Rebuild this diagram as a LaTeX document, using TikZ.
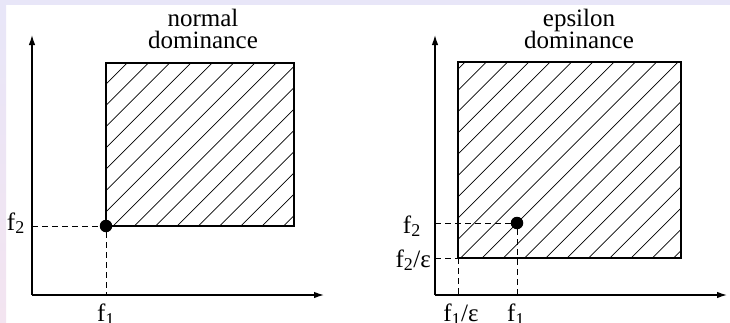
\documentclass[tikz,border=0pt]{standalone}
\usepackage{fontspec}
\setmainfont{Liberation Serif}
\usetikzlibrary{arrows.meta}
\definecolor{lav}{HTML}{E8E6F8}
\definecolor{pnk}{HTML}{F3E4F0}
\tikzset{
  axis/.style={line width=1.3pt,-{Latex[length=10pt,width=6.5pt]}},
  region/.style={line width=1.4pt},
  hatch/.style={line width=0.7pt},
  guide/.style={line width=1pt,dash pattern=on 6pt off 4pt},
  pt/.style={circle,fill=black,inner sep=0pt,minimum size=12.5pt},
  lbl/.style={inner sep=0pt,font=\fontsize{25}{25}\selectfont},
  ttl/.style={inner sep=0pt,font=\fontsize{25}{20}\selectfont}
}
\newcommand{\sbs}[1]{\textsubscript{\fontsize{18}{18}\selectfont #1}}
\begin{document}
\begin{tikzpicture}[x=1pt,y=-1pt]
\useasboundingbox (0,0) rectangle (730,322);
\fill[white] (0,0) rectangle (730,322);
\fill[lav] (0,0) rectangle (730,5);
\shade[top color=lav,bottom color=pnk] (0,5) rectangle (6,322);

% ---------- left panel ----------
\coordinate (O1) at (32,295);
\coordinate (Y1) at (32,35);
\coordinate (X1) at (324,295);
\begin{scope}
\clip (106,63) rectangle (294,226);
\foreach \k in {-2,...,16} {
  \pgfmathsetmacro{\c}{190+21.3*\k}
  \draw[hatch] (\c-300,300) -- (\c,0);
}
\end{scope}
\draw[region] (106,63) rectangle (294,226);
\node[pt] (p1) at (106,226) {};
\coordinate (p1y) at (O1 |- p1);
\coordinate (p1x) at (O1 -| p1);
\draw[guide] (p1y) -- (p1);
\draw[guide] (p1) -- (p1x);
\draw[axis] (O1) -- (Y1);
\draw[axis] (O1) -- (X1);
\node[lbl,anchor=base east] (f2a) at (25,230) {f\sbs{2}};
\node[lbl,anchor=north] (f1a) at (106,304) {f\sbs{1}};
\node[ttl,anchor=base] (t1a) at (203,26) {normal};
\node[ttl,anchor=base] (t1b) at (203,48) {dominance};

% ---------- right panel ----------
\coordinate (O2) at (435,295);
\coordinate (Y2) at (435,35);
\coordinate (X2) at (727,295);
\begin{scope}
\clip (458,62) rectangle (681,258);
\foreach \k in {-2,...,20} {
  \pgfmathsetmacro{\c}{527+21.3*\k}
  \draw[hatch] (\c-300,300) -- (\c,0);
}
\end{scope}
\draw[region] (458,62) rectangle (681,258);
\coordinate (c2) at (458,258);
\node[pt] (p2) at (517,223) {};
\coordinate (p2y) at (O2 |- p2);
\coordinate (p2x) at (O2 -| p2);
\coordinate (c2y) at (O2 |- c2);
\coordinate (c2x) at (O2 -| c2);
\draw[guide] (p2y) -- (p2);
\draw[guide] (p2) -- (p2x);
\draw[guide] (c2y) -- (c2);
\draw[guide] (c2) -- (c2x);
\draw[axis] (O2) -- (Y2);
\draw[axis] (O2) -- (X2);
\node[lbl,anchor=base east] (f2b) at (421,233) {f\sbs{2}};
\node[lbl,anchor=base east] (f2e) at (431,267) {f\sbs{2}/ε};
\node[lbl,anchor=north] (f1e) at (461,304) {f\sbs{1}/ε};
\node[lbl,anchor=north] (f1b) at (516,304) {f\sbs{1}};
\node[ttl,anchor=base] (t2a) at (579,26) {epsilon};
\node[ttl,anchor=base] (t2b) at (579,48) {dominance};
\end{tikzpicture}
\end{document}
